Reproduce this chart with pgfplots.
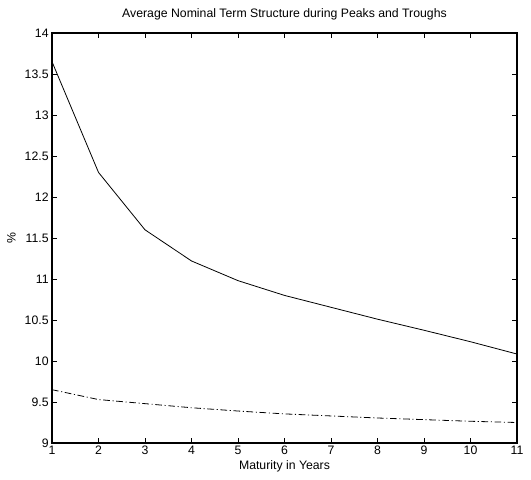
\documentclass[border=0pt]{standalone}
\usepackage{pgfplots}
\pgfplotsset{compat=1.18}
\usepackage{fontspec}
\setmainfont{Liberation Sans}
\begin{document}
\begin{tikzpicture}
\begin{axis}[
  at={(0,0)}, anchor=south west,
  scale only axis,
  width=348.75pt, height=307.5pt,
  xmin=1, xmax=11, ymin=9, ymax=14,
  xtick={1,...,11},
  ytick={9,9.5,...,14},
  yticklabels={9,9.5,10,10.5,11,11.5,12,12.5,13,13.5,14},
  tick align=inside,
  tick pos=both,
  major tick length=4pt,
  axis line style={line width=0.8pt},
  tick style={line width=0.5pt, black},
  /pgf/number format/assume math mode=true,
  ticklabel style={font=\fontsize{9.2}{11}\selectfont},
  xticklabel style={yshift=1pt},
  yticklabel style={xshift=1pt},
  label style={font=\fontsize{9.2}{11}\selectfont},
  title style={font=\fontsize{9.2}{11}\selectfont, yshift=0pt},
  title={Average Nominal Term Structure during Peaks and Troughs},
  xlabel={Maturity in Years},
  ylabel={\%},
  xlabel style={yshift=3pt},
  ylabel style={yshift=0pt},
]
% peaks
\addplot[black, line width=0.6pt] coordinates {
  (1,13.65) (2,12.30) (3,11.60) (4,11.22) (5,10.98) (6,10.80)
  (7,10.655) (8,10.51) (9,10.375) (10,10.235) (11,10.085)
};
% troughs
\addplot[black, line width=0.6pt, dash pattern=on 5pt off 2pt on 0.8pt off 2pt] coordinates {
  (1,9.65) (2,9.53) (3,9.48) (4,9.43) (5,9.39) (6,9.355)
  (7,9.33) (8,9.305) (9,9.285) (10,9.265) (11,9.25)
};
\end{axis}
\pgfresetboundingbox
\useasboundingbox (-39pt,-27pt) rectangle (359.25pt,332.25pt);
\end{tikzpicture}
\end{document}
